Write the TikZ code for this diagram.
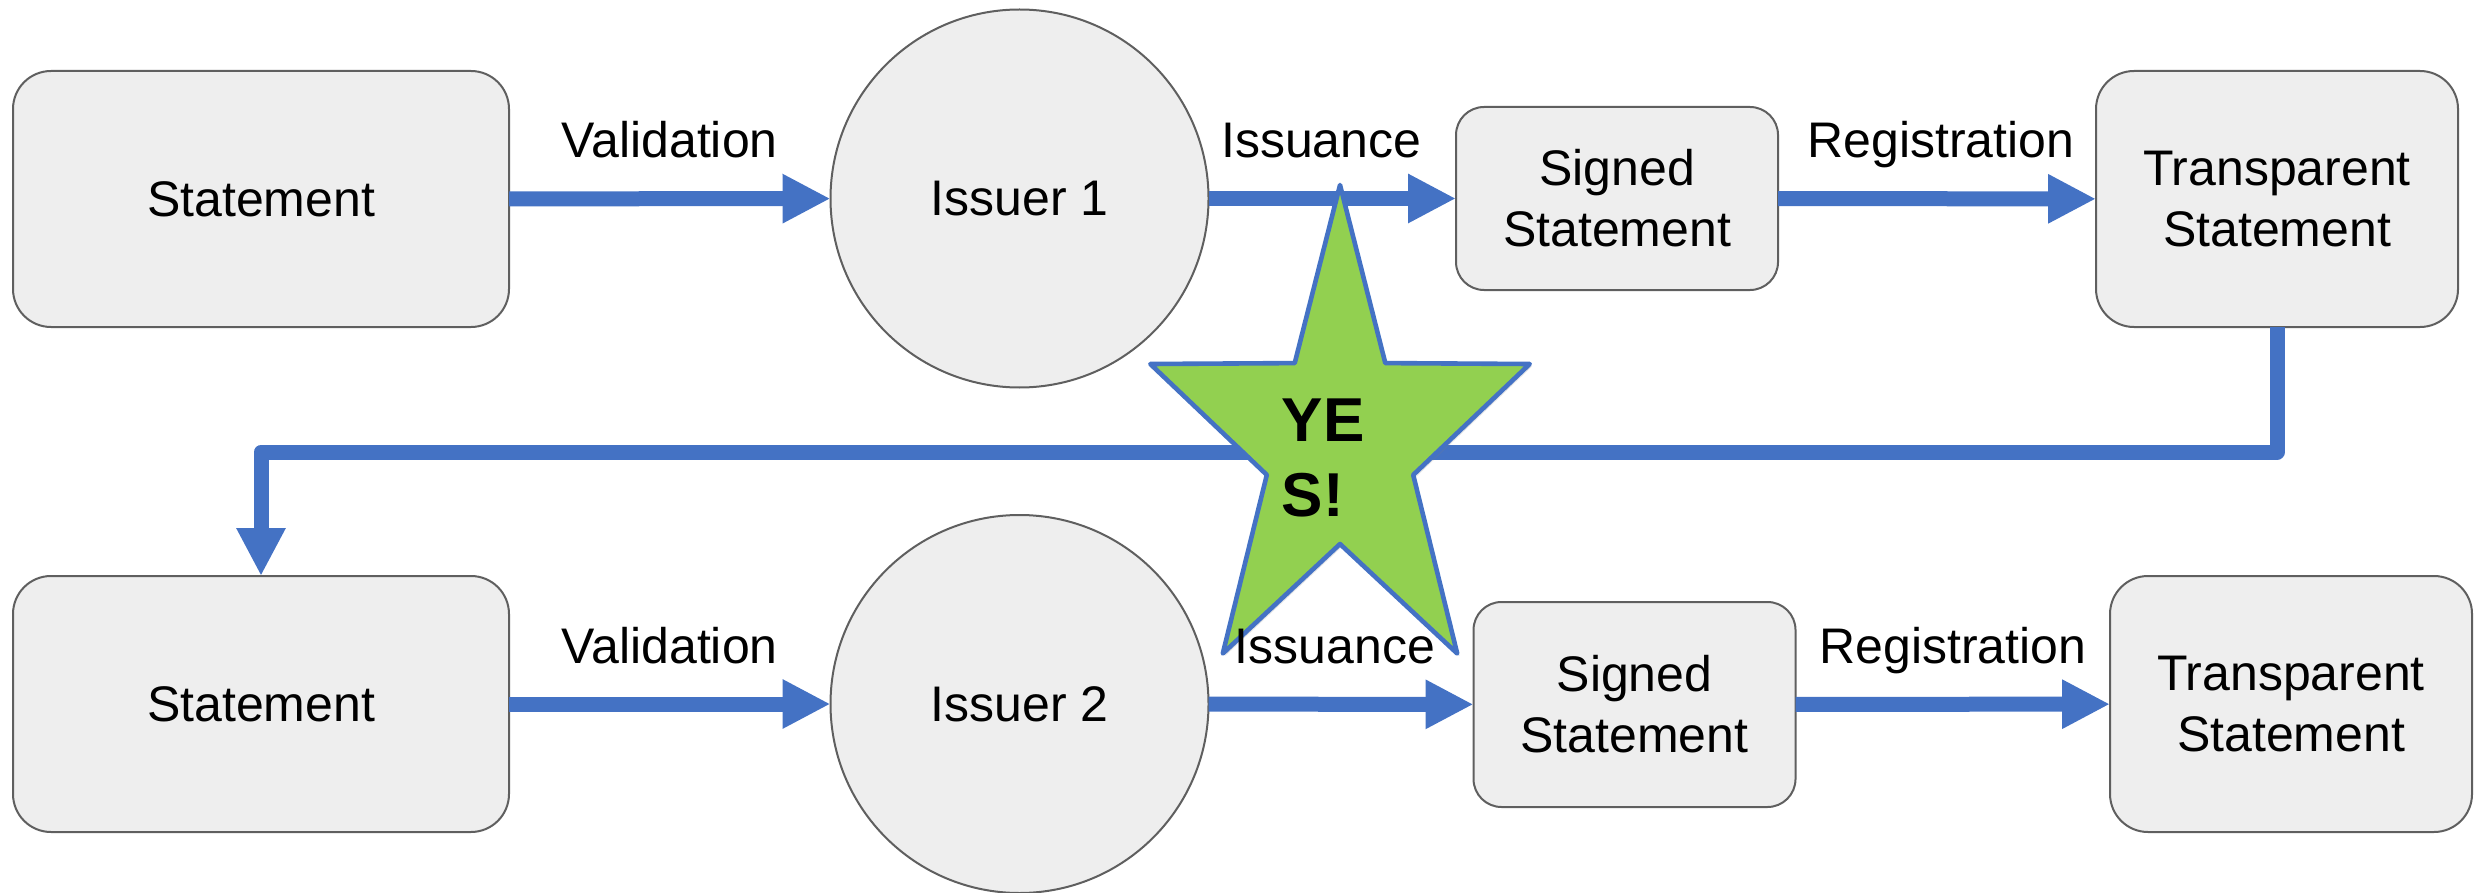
\documentclass[tikz,border=0pt]{standalone}
\usepackage{fontspec}
\setmainfont{Liberation Sans}
\usetikzlibrary{arrows.meta,shadows}
\definecolor{flowblue}{HTML}{4472C4}
\definecolor{boxfill}{HTML}{EEEEEE}
\definecolor{boxline}{HTML}{5F5F5F}
\definecolor{stargreen}{HTML}{92D050}

\begin{document}
\begin{tikzpicture}[x=0.5pt,y=-0.5pt,
  every node/.style={font=\fontsize{25}{30.5}\selectfont, inner sep=0pt, outer sep=0pt},
  shapebase/.style={draw=boxline, line width=1pt, fill=boxfill, align=center},
  stmt/.style={shapebase, rounded corners=19pt, minimum width=248pt, minimum height=128pt},
  signed/.style={shapebase, rounded corners=14pt, minimum width=161pt},
  issuer/.style={shapebase, circle, minimum size=189pt},
  flow/.style={draw=flowblue, line width=7.5pt, -{Triangle[length=24pt,width=23pt]}},
  lbl/.style={anchor=base, yshift=20.5pt},
  starline/.style={draw=flowblue, line width=2.3pt, fill=stargreen, line join=round,
    drop shadow={shadow xshift=1.2pt, shadow yshift=-1.2pt, opacity=0.2}},
  yestext/.style={font=\bfseries\fontsize{31}{37.5}\selectfont, align=left}
]
\useasboundingbox (0,0) rectangle (2482,893);

% upper row
\node[stmt]   (s1) at (261,199)    {Statement};
\node[issuer] (i1) at (1019.5,198.5) {Issuer 1};
\node[signed, minimum height=91.5pt] (g1) at (1617,198.5) {Signed\\Statement};
\node[stmt, minimum width=181pt] (t1) at (2277,199) {Transparent\\Statement};

% lower row
\node[stmt]   (s2) at (261,704)    {Statement};
\node[issuer] (i2) at (1019.5,704) {Issuer 2};
\node[signed, minimum height=102.5pt] (g2) at (1634.5,704.5) {Signed\\Statement};
\node[stmt, minimum width=181pt] (t2) at (2291,704) {Transparent\\Statement};

% upper row flow
\draw[flow] (s1) -- node[lbl] (lv1) {Validation} (i1);
\draw[flow] (i1) -- node[lbl, xshift=-5.5pt] (li1) {Issuance} (g1);
\draw[flow] (g1) -- node[lbl, xshift=2pt] (lr1) {Registration} (t1);

% hand-over from the upper row to the lower row
\coordinate (bend) at (0,452);
\draw[flow, line join=round] (t1.south) -- (t1.south |- bend) -| (s2.north);

% star
\draw[starline] (1340,185) -- (1385.3,363.1) -- (1529.7,364) -- (1413.2,474.9)
  -- (1457.2,653.5) -- (1340,544) -- (1222.8,653.5) -- (1266.8,474.9)
  -- (1150.3,364) -- (1294.7,363.1) -- cycle;
\node[yestext] (yes) at (1323,458) {YE\\S!};

% lower row flow
\draw[flow] (s2) -- node[lbl] (lv2) {Validation} (i2);
\draw[flow] (i2) -- node[lbl, xshift=-3pt] (li2) {Issuance} (g2);
\draw[flow] (g2) -- node[lbl] (lr2) {Registration} (t2);
\end{tikzpicture}
\end{document}
